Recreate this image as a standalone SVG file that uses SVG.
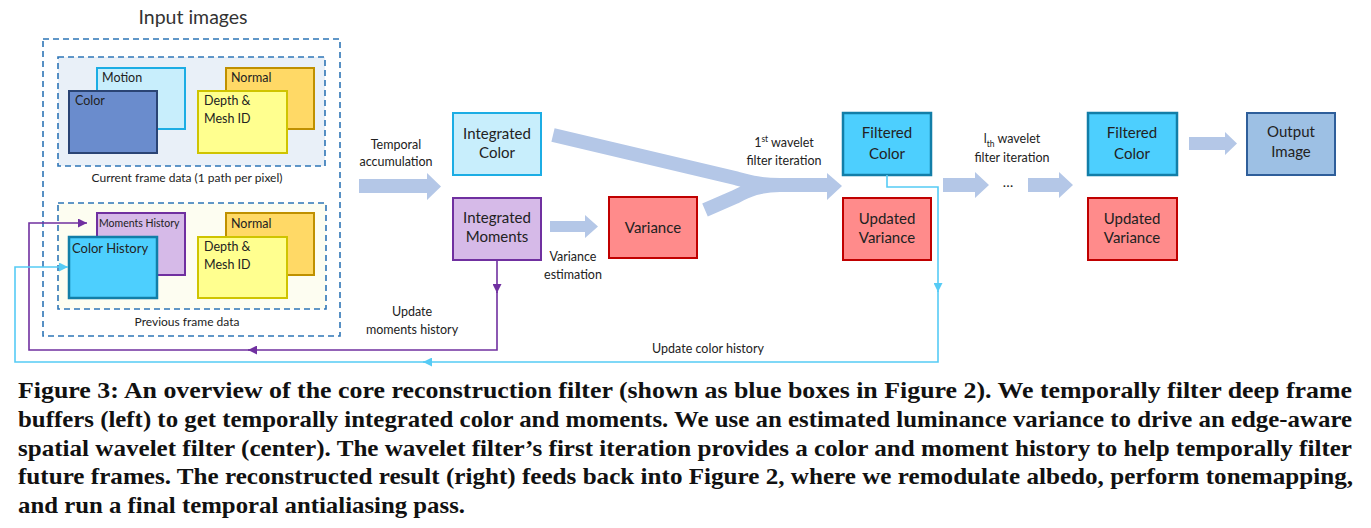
<svg xmlns="http://www.w3.org/2000/svg" width="1371" height="528" viewBox="0 0 1371 528">
<style>
  .lbl{font-family:Lato,"Open Sans","Liberation Sans",sans-serif;fill:#222;}
  .s{font-size:12.5px;}
  .m{font-size:15px;text-anchor:middle;}
  .c{text-anchor:middle;}
  .cap{font-family:"Liberation Serif","DejaVu Serif",serif;font-weight:bold;font-size:23px;fill:#111;}
  .dash{fill:none;stroke:#2E75B6;stroke-width:1.6;stroke-dasharray:6,4;}
  .big{fill:#B4C7E7;}
  .pur{fill:none;stroke:#7030A0;stroke-width:1.6;}
  .cya{fill:none;stroke:#56CBF5;stroke-width:1.6;}
</style>
<defs>
  <marker id="ap" viewBox="0 0 10 10" refX="10" refY="5" markerWidth="9" markerHeight="9" markerUnits="userSpaceOnUse" orient="auto"><path d="M0,0 L10,5 L0,10 z" fill="#7030A0"/></marker>
  <marker id="ac" viewBox="0 0 10 10" refX="10" refY="5" markerWidth="9" markerHeight="9" markerUnits="userSpaceOnUse" orient="auto"><path d="M0,0 L10,5 L0,10 z" fill="#56CBF5"/></marker>
</defs>
<rect width="1371" height="528" fill="#fff"/>

<!-- Input images group -->
<g id="input-images">
  <text class="lbl c" x="193" y="24" style="font-size:19.5px;fill:#333">Input images</text>
  <rect class="dash" x="43" y="39" width="297" height="297"/>
</g>
<g id="current-frame">
  <rect x="58" y="57" width="267" height="109" fill="#E9F0F8"/>
  <rect class="dash" x="58" y="57" width="267" height="109"/>
  <text class="lbl c" x="187" y="182" style="font-size:12px">Current frame data (1 path per pixel)</text>
</g>
<g id="motion"><rect x="97" y="68" width="88" height="61" fill="#C8EEFC" stroke="#1CADE4" stroke-width="2"/><text class="lbl s" x="102" y="82">Motion</text></g>
<g id="color"><rect x="69" y="91" width="88" height="62" fill="#6A8CCD" stroke="#2A4474" stroke-width="2"/><text class="lbl s" x="75" y="105">Color</text></g>
<g id="normal1"><rect x="226" y="68" width="88" height="61" fill="#FFD966" stroke="#BF9000" stroke-width="2"/><text class="lbl s" x="231" y="82">Normal</text></g>
<g id="depth1"><rect x="198" y="91" width="89" height="62" fill="#FFFF8F" stroke="#CFC400" stroke-width="2"/><text class="lbl s" x="204" y="105">Depth &amp;</text><text class="lbl s" x="204" y="123">Mesh ID</text></g>

<g id="previous-frame">
  <rect x="58" y="203" width="268" height="106" fill="#FDFDF1"/>
  <rect class="dash" x="58" y="203" width="268" height="106"/>
  <text class="lbl c" x="187" y="326" style="font-size:12px">Previous frame data</text>
</g>
<g id="moments-history"><rect x="97" y="213" width="88" height="62" fill="#D6BAE8" stroke="#7030A0" stroke-width="2"/><text class="lbl" x="99" y="227" style="font-size:10.5px">Moments History</text></g>
<g id="color-history"><rect x="69" y="237" width="88" height="61" fill="#4DCFFE" stroke="#127EA8" stroke-width="2.5"/><text class="lbl" x="72" y="253" style="font-size:13px">Color History</text></g>
<g id="normal2"><rect x="226" y="213" width="88" height="62" fill="#FFD966" stroke="#BF9000" stroke-width="2"/><text class="lbl s" x="231" y="228">Normal</text></g>
<g id="depth2"><rect x="198" y="237" width="89" height="61" fill="#FFFF8F" stroke="#CFC400" stroke-width="2"/><text class="lbl s" x="204" y="251">Depth &amp;</text><text class="lbl s" x="204" y="269">Mesh ID</text></g>

<!-- center nodes -->
<g id="integrated-color"><rect x="453" y="113" width="88" height="62" fill="#C8EEFC" stroke="#1CADE4" stroke-width="2"/><text class="lbl m" x="497" y="139">Integrated</text><text class="lbl m" x="497" y="158">Color</text></g>
<g id="integrated-moments"><rect x="453" y="198" width="88" height="62" fill="#D6BAE8" stroke="#7030A0" stroke-width="2"/><text class="lbl m" x="497" y="223">Integrated</text><text class="lbl m" x="497" y="242">Moments</text></g>
<g id="variance"><rect x="609" y="197" width="88" height="61" fill="#FF8B8B" stroke="#C00000" stroke-width="2"/><text class="lbl m" x="653" y="233">Variance</text></g>
<g id="filtered-color-1"><rect x="843" y="113" width="88" height="62" fill="#4DCFFE" stroke="#127EA8" stroke-width="2.5"/><text class="lbl m" x="887" y="138">Filtered</text><text class="lbl m" x="887" y="159">Color</text></g>
<g id="updated-variance-1"><rect x="843" y="198" width="88" height="62" fill="#FF8B8B" stroke="#C00000" stroke-width="2"/><text class="lbl m" x="887" y="224">Updated</text><text class="lbl m" x="887" y="243">Variance</text></g>
<g id="filtered-color-2"><rect x="1088" y="113" width="89" height="62" fill="#4DCFFE" stroke="#127EA8" stroke-width="2.5"/><text class="lbl m" x="1132" y="138">Filtered</text><text class="lbl m" x="1132" y="159">Color</text></g>
<g id="updated-variance-2"><rect x="1088" y="198" width="89" height="62" fill="#FF8B8B" stroke="#C00000" stroke-width="2"/><text class="lbl m" x="1132" y="224">Updated</text><text class="lbl m" x="1132" y="243">Variance</text></g>
<g id="output-image"><rect x="1247" y="113" width="88" height="62" fill="#9DC0E4" stroke="#2E5E9A" stroke-width="2"/><text class="lbl m" x="1291" y="137">Output</text><text class="lbl m" x="1291" y="157">Image</text></g>

<!-- connectors -->
<g id="connectors">
  <path class="big" d="M359,179 H427 V173 L441,186.5 L427,200 V193 H359 Z"/>
  <path class="big" d="M550,221 H585 V215 L598,226.5 L585,238 V232 H550 Z"/>
  <path d="M553,135 L735,178 C750,182 760,185 780,185 L829,185 M705,210 L735,197 C748,190 760,185 780,185" fill="none" stroke="#B4C7E7" stroke-width="14"/>
  <path class="big" d="M827,173 L842,186 L827,200 Z"/>
  <path class="big" d="M943,178 H975 V172 L989,185 L975,198 V192 H943 Z"/>
  <path class="big" d="M1028,178 H1059 V172 L1073,185 L1059,198 V192 H1028 Z"/>
  <path class="big" d="M1189,137 H1225 V132 L1237,143.5 L1225,155 V150 H1189 Z"/>

  <path class="pur" d="M497,260 V293" marker-end="url(#ap)"/>
  <path class="pur" d="M497,292 V350 H248" marker-end="url(#ap)"/>
  <path class="pur" d="M250,350 H29 V223 H87" marker-end="url(#ap)"/>

  <path class="cya" d="M887,175 V187 H938 V292" marker-end="url(#ac)"/>
  <path class="cya" d="M938,291 V362 H423" marker-end="url(#ac)"/>
  <path class="cya" d="M425,362 H15 V267 H68" marker-end="url(#ac)"/>
</g>

<!-- labels -->
<g id="edge-labels">
  <text class="lbl s c" x="396" y="149">Temporal</text>
  <text class="lbl s c" x="396" y="166">accumulation</text>
  <text class="lbl s c" x="573" y="261">Variance</text>
  <text class="lbl s c" x="573" y="279">estimation</text>
  <text class="lbl s c" x="784" y="147">1<tspan font-size="8.5" dy="-5">st</tspan><tspan dy="5"> wavelet</tspan></text>
  <text class="lbl s c" x="784" y="165">filter iteration</text>
  <text class="lbl s c" x="1012" y="143">l<tspan font-size="8.5" dy="4">th</tspan><tspan dy="-4"> wavelet</tspan></text>
  <text class="lbl s c" x="1012" y="162">filter iteration</text>
  <text class="lbl c" x="1008" y="187" style="font-size:14px">…</text>
  <text class="lbl s c" x="412" y="316">Update</text>
  <text class="lbl s c" x="412" y="334">moments history</text>
  <text class="lbl s c" x="708" y="353">Update color history</text>
</g>

<!-- caption -->
<g id="caption">
  <text class="cap" x="18" y="398" textLength="1334" lengthAdjust="spacingAndGlyphs">Figure 3:  An overview of the core reconstruction filter (shown as blue boxes in Figure 2).  We temporally filter deep frame</text>
  <text class="cap" x="18" y="427" textLength="1334" lengthAdjust="spacingAndGlyphs">buffers (left) to get temporally integrated color and moments. We use an estimated luminance variance to drive an edge-aware</text>
  <text class="cap" x="18" y="456" textLength="1334" lengthAdjust="spacingAndGlyphs">spatial wavelet filter (center). The wavelet filter’s first iteration provides a color and moment history to help temporally filter</text>
  <text class="cap" x="18" y="484" textLength="1335" lengthAdjust="spacingAndGlyphs">future frames. The reconstructed result (right) feeds back into Figure 2, where we remodulate albedo, perform tonemapping,</text>
  <text class="cap" x="18" y="513" textLength="447" lengthAdjust="spacingAndGlyphs">and run a final temporal antialiasing pass.</text>
</g>
</svg>
